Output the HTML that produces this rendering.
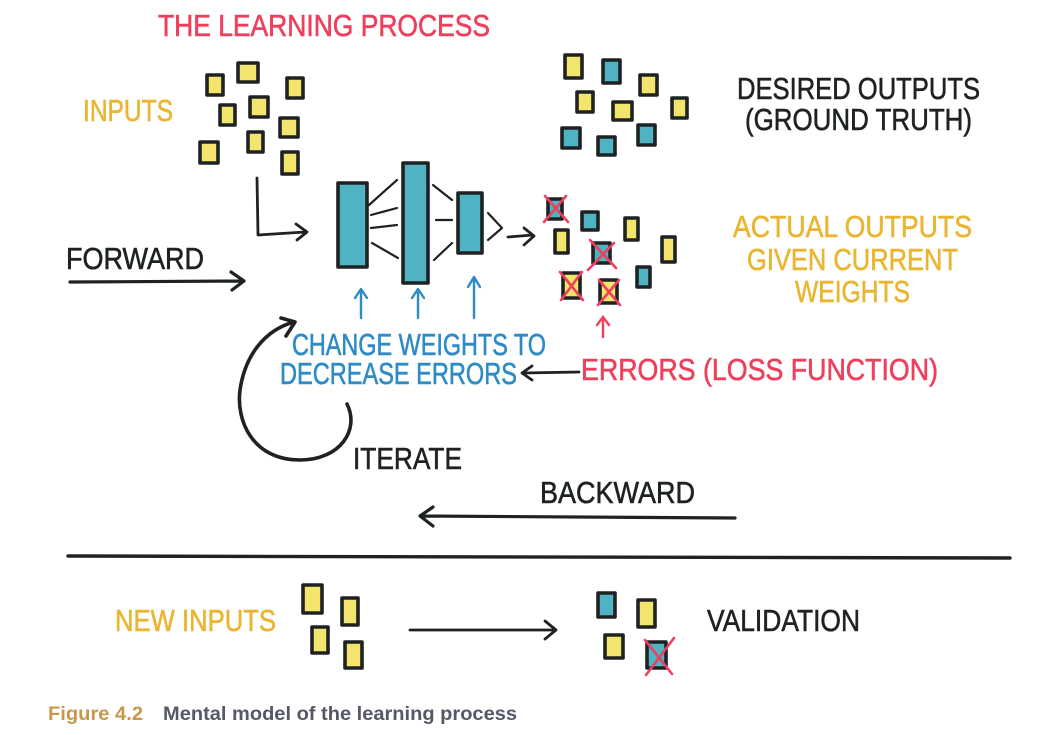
<!DOCTYPE html>
<html><head><meta charset="utf-8"><style>
html,body{margin:0;padding:0;background:#fff;}
svg{display:block;}
.t{font-family:"Liberation Sans",sans-serif;font-size:31px;stroke-width:0.6;}
.sq{stroke:#1e2222;stroke-width:3.6;stroke-linejoin:round;}
.y{fill:#f3e46e;}
.b{fill:#4fb3c4;}
.x{stroke:#ee3f5c;stroke-width:2.6;stroke-linecap:round;fill:none;}
.ln{stroke:#1e2222;fill:none;stroke-linecap:round;stroke-linejoin:round;}
.bl{stroke:#2e8bc6;fill:none;stroke-width:2.4;stroke-linecap:round;stroke-linejoin:round;}
</style></head><body>
<svg width="1063" height="735" viewBox="0 0 1063 735" xmlns="http://www.w3.org/2000/svg">
<text class="t" x="158" y="36" fill="#ee3f5c" stroke="#ee3f5c" textLength="332" lengthAdjust="spacingAndGlyphs">THE LEARNING PROCESS</text>
<text class="t" x="83" y="121" fill="#eab530" stroke="#eab530" textLength="90" lengthAdjust="spacingAndGlyphs">INPUTS</text>
<text class="t" x="737" y="99" fill="#1e2222" stroke="#1e2222" textLength="243" lengthAdjust="spacingAndGlyphs">DESIRED OUTPUTS</text>
<text class="t" x="745" y="130" fill="#1e2222" stroke="#1e2222" textLength="227" lengthAdjust="spacingAndGlyphs">(GROUND TRUTH)</text>
<text class="t" x="733" y="237" fill="#eab530" stroke="#eab530" textLength="239" lengthAdjust="spacingAndGlyphs">ACTUAL OUTPUTS</text>
<text class="t" x="747" y="270" fill="#eab530" stroke="#eab530" textLength="211" lengthAdjust="spacingAndGlyphs">GIVEN CURRENT</text>
<text class="t" x="795" y="302" fill="#eab530" stroke="#eab530" textLength="115" lengthAdjust="spacingAndGlyphs">WEIGHTS</text>
<text class="t" x="66" y="269" fill="#1e2222" stroke="#1e2222" textLength="138" lengthAdjust="spacingAndGlyphs">FORWARD</text>
<text class="t" x="292" y="355" fill="#2e8bc6" stroke="#2e8bc6" textLength="254" lengthAdjust="spacingAndGlyphs">CHANGE WEIGHTS TO</text>
<text class="t" x="280" y="384" fill="#2e8bc6" stroke="#2e8bc6" textLength="237" lengthAdjust="spacingAndGlyphs">DECREASE ERRORS</text>
<text class="t" x="581" y="380" fill="#ee3f5c" stroke="#ee3f5c" textLength="357" lengthAdjust="spacingAndGlyphs">ERRORS (LOSS FUNCTION)</text>
<text class="t" x="353" y="469" fill="#1e2222" stroke="#1e2222" textLength="109" lengthAdjust="spacingAndGlyphs">ITERATE</text>
<text class="t" x="540" y="503" fill="#1e2222" stroke="#1e2222" textLength="155" lengthAdjust="spacingAndGlyphs">BACKWARD</text>
<text class="t" x="115" y="631" fill="#eab530" stroke="#eab530" textLength="161" lengthAdjust="spacingAndGlyphs">NEW INPUTS</text>
<text class="t" x="707" y="631" fill="#1e2222" stroke="#1e2222" textLength="153" lengthAdjust="spacingAndGlyphs">VALIDATION</text>
<text x="48" y="720" font-family="Liberation Sans,sans-serif" font-weight="bold" font-size="19" fill="#c9974a" textLength="95" lengthAdjust="spacingAndGlyphs">Figure 4.2</text>
<text x="163" y="720" font-family="Liberation Sans,sans-serif" font-weight="bold" font-size="19" fill="#555866" textLength="354" lengthAdjust="spacingAndGlyphs">Mental model of the learning process</text>

<g class="sq">
<rect class="y" x="207" y="75" width="16" height="20"/>
<rect class="y" x="238" y="63" width="20" height="19"/>
<rect class="y" x="287" y="78" width="16" height="20"/>
<rect class="y" x="220" y="105" width="15" height="20"/>
<rect class="y" x="250" y="97" width="18" height="20"/>
<rect class="y" x="280" y="118" width="18" height="19"/>
<rect class="y" x="200" y="142" width="18" height="21"/>
<rect class="y" x="248" y="132" width="15" height="20"/>
<rect class="y" x="282" y="152" width="16" height="22"/>
<rect class="y" x="565" y="55" width="17" height="23"/>
<rect class="b" x="603" y="60" width="17" height="23"/>
<rect class="y" x="640" y="75" width="17" height="20"/>
<rect class="y" x="577" y="92" width="16" height="20"/>
<rect class="y" x="613" y="102" width="19" height="18"/>
<rect class="y" x="672" y="98" width="15" height="20"/>
<rect class="b" x="562" y="128" width="18" height="20"/>
<rect class="b" x="598" y="137" width="17" height="18"/>
<rect class="b" x="638" y="125" width="17" height="20"/>
<rect class="b" x="548" y="199" width="14" height="20"/>
<rect class="b" x="582" y="212" width="16" height="18"/>
<rect class="y" x="625" y="218" width="13" height="22"/>
<rect class="y" x="555" y="230" width="13" height="23"/>
<rect class="b" x="593" y="243" width="17" height="20"/>
<rect class="y" x="662" y="237" width="13" height="25"/>
<rect class="y" x="563" y="273" width="17" height="25"/>
<rect class="y" x="600" y="280" width="17" height="23"/>
<rect class="b" x="637" y="267" width="13" height="20"/>
<rect class="y" x="303" y="585" width="19" height="28"/>
<rect class="y" x="342" y="598" width="16" height="27"/>
<rect class="y" x="312" y="627" width="16" height="26"/>
<rect class="y" x="345" y="642" width="17" height="26"/>
<rect class="b" x="598" y="593" width="17" height="24"/>
<rect class="y" x="638" y="600" width="17" height="27"/>
<rect class="y" x="605" y="635" width="18" height="23"/>
<rect class="b" x="647" y="642" width="19" height="26"/>
</g>
<g class="x">
<path d="M545 196 L568 222 M566 196 L544 222"/>
<path d="M590 240 L616 268 M614 243 L588 270"/>
<path d="M560 272 L583 300 M582 272 L561 300"/>
<path d="M599 280 L620 305 M619 280 L598 305"/>
<path d="M645 640 L672 674 M674 638 L646 675"/>
</g>
<g class="sq">
<rect class="b" x="338" y="183" width="29" height="84"/>
<rect class="b" x="403" y="163" width="25" height="120"/>
<rect class="b" x="458" y="193" width="24" height="60"/>
</g>
<g class="ln" stroke-width="2.2">
<path d="M369 205 L397 180 M371 215 L397 208 M371 228 L397 225 M372 243 L398 258"/>
<path d="M433 185 L452 200 M436 220 L452 220 M434 260 L452 243"/>
<path d="M488 213 L502 228 L488 240"/>
</g>
<g class="ln" stroke-width="2.8">
<path d="M508 237 L533 235 M524 228 L534 236 L524 245"/>
<path d="M257 178 L258 235 L305 232 M296 224 L307 232 L297 240"/>
<path d="M70 282 L242 281 M231 272 L244 281 L232 290" stroke-width="3.2"/>
<path d="M579 372 L523 373 M532 366 L522 373 L532 380"/>
<path d="M735 518 L421 516 M433 507 L420 516 L433 526" stroke-width="3.2"/>
<path d="M68 556 L1010 558" stroke-width="3.4"/>
<path d="M410 630 L555 630 M545 621 L556 630 L545 639"/>
<path d="M347 404 C360 430 340 460 300 460 C252 460 236 420 240 390 C245 355 265 330 294 322 M281 318 L295 322 L286 336" stroke-width="3.6"/>
</g>
<g class="bl">
<path d="M361 318 L361 290 M355 298 L361 289 L367 298"/>
<path d="M418 318 L418 290 M412 298 L418 289 L424 298"/>
<path d="M474 318 L474 278 M468 287 L474 277 L480 287"/>
</g>
<path d="M603 337 L603 318 M597 325 L603 317 L609 325" stroke="#ee3f5c" stroke-width="2.4" fill="none" stroke-linecap="round"/>
</svg>
</body></html>
